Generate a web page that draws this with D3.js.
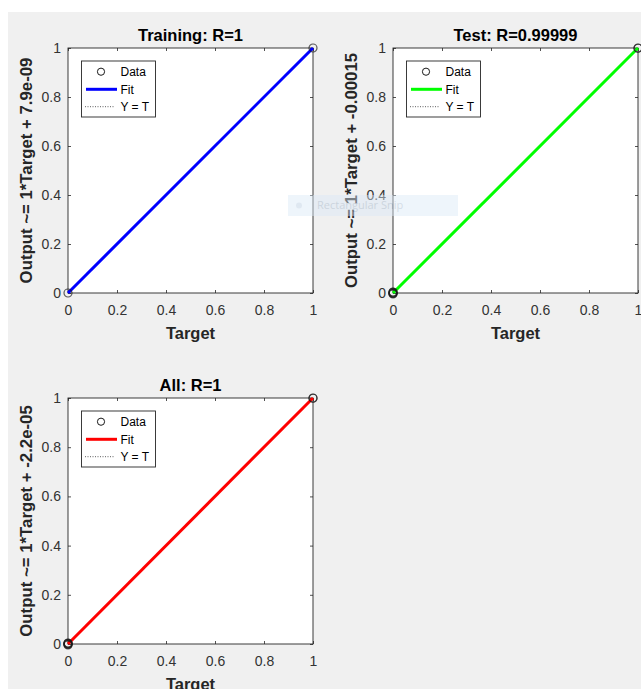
<!DOCTYPE html>
<html>
<head>
<meta charset="utf-8">
<script src="https://cdn.jsdelivr.net/npm/d3@7"></script>
<style>
  html, body { margin: 0; padding: 0; background: #ffffff; }
  svg { display: block; }
  text { font-family: "Liberation Sans", Arial, Helvetica, sans-serif; }
</style>
</head>
<body>
<svg id="chart" width="641" height="689"></svg>
<script>
// ---------------- data ----------------
const panelTitles = ["Training: R=1", "Test: R=0.99999", "All: R=1"];
const yAxisLabels = [
  "Output ~= 1*Target + 7.9e-09",
  "Output ~= 1*Target + -0.00015",
  "Output ~= 1*Target + -2.2e-05"
];
const xAxisLabel = "Target";
const fitSlopes = [1, 1, 1];
const fitIntercepts = [7.9e-09, -0.00015, -2.2e-05];

const trainingTargets = [0, 1];
const trainingOutputs = [0, 1];
const testTargets = [0, 0, 0, 0, 0, 0, 1, 1];
const testOutputs = [0.003, -0.004, 0.001, -0.002, 0.004, -0.001, 1, 0.999];
const allTargets = [0, 0, 0, 0, 0, 0, 1, 1];
const allOutputs = [0.003, -0.004, 0.001, -0.002, 0.004, 0, 1, 0.999];

const tickValues = [0, 0.2, 0.4, 0.6, 0.8, 1];
const tickLabels = ["0", "0.2", "0.4", "0.6", "0.8", "1"];
const legendLabels = ["Data", "Fit", "Y = T"];
const watermarkText = "Rectangular Snip";

// ---------------- layout / style ----------------
const panels = [
  { x: 68,  y: 48,  w: 245, h: 245, color: "#0000ff", t: trainingTargets, o: trainingOutputs },
  { x: 393, y: 48,  w: 245, h: 245, color: "#00ff00", t: testTargets,     o: testOutputs },
  { x: 68,  y: 398, w: 245, h: 246, color: "#ff0000", t: allTargets,      o: allOutputs }
];
const axisColor = "#262626";
const svg = d3.select("#chart");

// figure background
svg.append("rect").attr("x", 8).attr("y", 12).attr("width", 633).attr("height", 677).attr("fill", "#f0f0f0");

panels.forEach((p, i) => {
  const g = svg.append("g").attr("transform", `translate(${p.x},${p.y})`);
  const x = d3.scaleLinear().domain([0, 1]).range([0, p.w]);
  const y = d3.scaleLinear().domain([0, 1]).range([p.h, 0]);

  g.append("rect").attr("width", p.w).attr("height", p.h).attr("fill", "#ffffff");

  const fmt = d => tickLabels[tickValues.indexOf(d)];
  const styleAxis = sel => {
    sel.select(".domain").remove();
    sel.selectAll("line").attr("stroke", axisColor).attr("stroke-width", 0.8);
    sel.selectAll("text").attr("fill", "#333").style("font-size", "14px")
      .style("font-family", "'Liberation Sans', Arial, sans-serif");
  };
  g.append("g").attr("transform", `translate(0,${p.h})`)
    .call(d3.axisBottom(x).tickValues(tickValues).tickFormat(fmt).tickSize(-3).tickPadding(12))
    .call(styleAxis);
  g.append("g")
    .call(d3.axisLeft(y).tickValues(tickValues).tickFormat(fmt).tickSize(-3).tickPadding(7))
    .call(styleAxis);
  g.append("g")
    .call(d3.axisTop(x).tickValues(tickValues).tickFormat("").tickSize(-3))
    .call(styleAxis);
  g.append("g").attr("transform", `translate(${p.w},0)`)
    .call(d3.axisRight(y).tickValues(tickValues).tickFormat("").tickSize(-3))
    .call(styleAxis);

  // box
  g.append("rect").attr("width", p.w).attr("height", p.h)
    .attr("fill", "none").attr("stroke", axisColor).attr("stroke-width", 0.9);

  // Y = T dotted
  const line = d3.line().x(d => x(d[0])).y(d => y(d[1]));
  g.append("path").datum([[0, 0], [1, 1]]).attr("d", line)
    .attr("fill", "none").attr("stroke", "#333").attr("stroke-width", 0.8).attr("stroke-dasharray", "1,2");

  // fit line
  const fit = t => fitSlopes[i] * t + fitIntercepts[i];
  g.append("path").datum([[0, fit(0)], [1, fit(1)]]).attr("d", line)
    .attr("fill", "none").attr("stroke", p.color).attr("stroke-width", 3);

  // data
  g.selectAll("circle.data").data(p.t.map((t, k) => [t, p.o[k]])).join("circle")
    .attr("class", "data")
    .attr("cx", d => x(d[0])).attr("cy", d => y(d[1])).attr("r", 4)
    .attr("fill", "none").attr("stroke", "#1a1a1a").attr("stroke-width", 1.2).attr("stroke-opacity", 0.7);

  // title
  g.append("text").attr("x", p.w / 2).attr("y", -7).attr("text-anchor", "middle")
    .attr("fill", "#000").style("font-size", "16.5px").style("font-weight", "bold").text(panelTitles[i]);
  // x label
  g.append("text").attr("x", p.w / 2).attr("y", p.h + 45.5).attr("text-anchor", "middle")
    .attr("fill", axisColor).style("font-size", "16.5px").style("font-weight", "bold").text(xAxisLabel);
  // y label
  g.append("text").attr("transform", `translate(-36,${p.h / 2}) rotate(-90)`).attr("text-anchor", "middle")
    .attr("fill", axisColor).style("font-size", "16.8px").style("font-weight", "bold").text(yAxisLabels[i]);

  // legend
  const lg = g.append("g").attr("transform", "translate(13.5,13)");
  lg.append("rect").attr("width", 74).attr("height", 56)
    .attr("fill", "#ffffff").attr("stroke", axisColor).attr("stroke-width", 0.9);
  const rows = [10.7, 28.3, 45.7];
  lg.append("circle").attr("cx", 19.5).attr("cy", rows[0]).attr("r", 3.6)
    .attr("fill", "none").attr("stroke", "#1a1a1a").attr("stroke-width", 1);
  lg.append("line").attr("x1", 4.5).attr("x2", 35.5).attr("y1", rows[1]).attr("y2", rows[1])
    .attr("stroke", p.color).attr("stroke-width", 3);
  lg.append("line").attr("x1", 3.5).attr("x2", 33.5).attr("y1", rows[2]).attr("y2", rows[2])
    .attr("stroke", "#333").attr("stroke-width", 0.8).attr("stroke-dasharray", "1,1.5");
  legendLabels.forEach((lab, k) => {
    lg.append("text").attr("x", 39).attr("y", rows[k]).attr("dy", "0.36em")
      .attr("fill", "#000").style("font-size", "12px").text(lab);
  });
});

// snipping-tool watermark overlay
const wm = svg.append("g").attr("opacity", 0.45);
wm.append("rect").attr("x", 288).attr("y", 195).attr("width", 170).attr("height", 21).attr("fill", "#dbe9f7");
wm.append("circle").attr("cx", 299).attr("cy", 205.5).attr("r", 3).attr("fill", "#b9cde2");
wm.append("text").attr("x", 317).attr("y", 205.5).attr("dy", "0.36em").attr("fill", "#9fb3c8")
  .style("font-size", "11px").style("font-family", "'Open Sans', sans-serif").text(watermarkText);
</script>
</body>
</html>
